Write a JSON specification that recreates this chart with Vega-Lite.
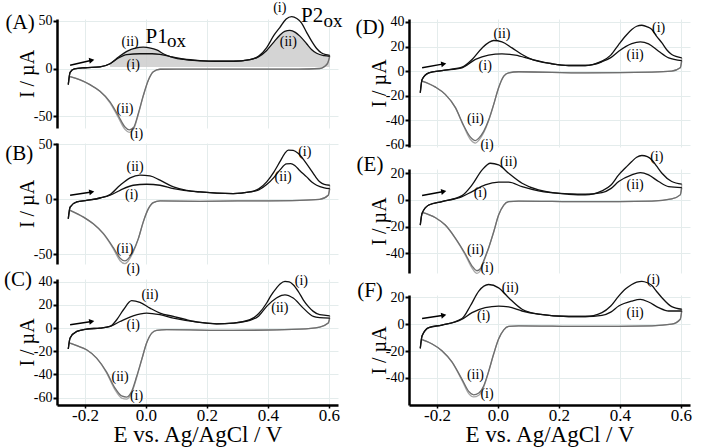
{
"$schema":"https://vega.github.io/schema/vega-lite/v6.json",
"background":"white",
"padding":{"left":3,"top":0,"right":3,"bottom":2},
"config":{"font":"Liberation Serif","view":{"stroke":null},
"axis":{"labelFont":"Liberation Serif","titleFont":"Liberation Serif","labelColor":"#000","titleColor":"#000","domainColor":"#000","tickColor":"#000","gridColor":"#e4ecec","gridWidth":1,"titleFontWeight":"normal"},
"axisY":{"domainWidth":2.5,"tickWidth":2,"tickSize":4,"labelFontSize":14,"labelPadding":1,"titleFontSize":20,"titleX":-24,"titleBaseline":"alphabetic","grid":true}},
"datasets":{
"cv":[
{"p":"A","s":"f1","E":-0.255,"I":-17},{"p":"A","s":"f1","E":-0.249,"I":-4},{"p":"A","s":"f1","E":-0.235,"I":-0.5},{"p":"A","s":"f1","E":-0.2,"I":0.8},{"p":"A","s":"f1","E":-0.151,"I":1.7},{"p":"A","s":"f1","E":-0.118,"I":5},{"p":"A","s":"f1","E":-0.09,"I":11},{"p":"A","s":"f1","E":-0.063,"I":14.5},{"p":"A","s":"f1","E":-0.02,"I":15.5},{"p":"A","s":"f1","E":0.02,"I":15.5},{"p":"A","s":"f1","E":0.046,"I":14.8},{"p":"A","s":"f1","E":0.08,"I":12.5},{"p":"A","s":"f1","E":0.122,"I":10},{"p":"A","s":"f1","E":0.177,"I":8.3},{"p":"A","s":"f1","E":0.232,"I":7.6},{"p":"A","s":"f1","E":0.286,"I":7.6},{"p":"A","s":"f1","E":0.341,"I":9.3},{"p":"A","s":"f1","E":0.37,"I":13},{"p":"A","s":"f1","E":0.396,"I":22},{"p":"A","s":"f1","E":0.42,"I":35},{"p":"A","s":"f1","E":0.439,"I":43},{"p":"A","s":"f1","E":0.46,"I":52},{"p":"A","s":"f1","E":0.478,"I":54.5},{"p":"A","s":"f1","E":0.495,"I":52.5},{"p":"A","s":"f1","E":0.51,"I":48},{"p":"A","s":"f1","E":0.527,"I":38},{"p":"A","s":"f1","E":0.543,"I":29},{"p":"A","s":"f1","E":0.56,"I":21},{"p":"A","s":"f1","E":0.575,"I":16.5},{"p":"A","s":"f1","E":0.59,"I":14.5},{"p":"A","s":"f1","E":0.603,"I":13.8},
{"p":"A","s":"f2","E":-0.255,"I":-17},{"p":"A","s":"f2","E":-0.249,"I":-4},{"p":"A","s":"f2","E":-0.235,"I":-0.5},{"p":"A","s":"f2","E":-0.2,"I":0.8},{"p":"A","s":"f2","E":-0.151,"I":1.7},{"p":"A","s":"f2","E":-0.118,"I":5},{"p":"A","s":"f2","E":-0.09,"I":12},{"p":"A","s":"f2","E":-0.063,"I":18},{"p":"A","s":"f2","E":-0.035,"I":21.5},{"p":"A","s":"f2","E":-0.009,"I":22.4},{"p":"A","s":"f2","E":0.015,"I":21.5},{"p":"A","s":"f2","E":0.035,"I":19.5},{"p":"A","s":"f2","E":0.06,"I":15},{"p":"A","s":"f2","E":0.09,"I":11.5},{"p":"A","s":"f2","E":0.122,"I":9.5},{"p":"A","s":"f2","E":0.177,"I":8.1},{"p":"A","s":"f2","E":0.232,"I":7.6},{"p":"A","s":"f2","E":0.286,"I":7.6},{"p":"A","s":"f2","E":0.341,"I":9.3},{"p":"A","s":"f2","E":0.37,"I":12.5},{"p":"A","s":"f2","E":0.396,"I":19},{"p":"A","s":"f2","E":0.42,"I":28},{"p":"A","s":"f2","E":0.439,"I":35},{"p":"A","s":"f2","E":0.455,"I":39},{"p":"A","s":"f2","E":0.472,"I":40},{"p":"A","s":"f2","E":0.49,"I":38},{"p":"A","s":"f2","E":0.505,"I":34},{"p":"A","s":"f2","E":0.527,"I":26},{"p":"A","s":"f2","E":0.543,"I":20},{"p":"A","s":"f2","E":0.56,"I":16},{"p":"A","s":"f2","E":0.585,"I":13.5},{"p":"A","s":"f2","E":0.603,"I":12.8},
{"p":"A","s":"r1","E":-0.249,"I":-8.6},{"p":"A","s":"r1","E":-0.216,"I":-12},{"p":"A","s":"r1","E":-0.184,"I":-17},{"p":"A","s":"r1","E":-0.151,"I":-24},{"p":"A","s":"r1","E":-0.118,"I":-36},{"p":"A","s":"r1","E":-0.09,"I":-52},{"p":"A","s":"r1","E":-0.069,"I":-64},{"p":"A","s":"r1","E":-0.055,"I":-67},{"p":"A","s":"r1","E":-0.041,"I":-64},{"p":"A","s":"r1","E":-0.025,"I":-48},{"p":"A","s":"r1","E":-0.009,"I":-29},{"p":"A","s":"r1","E":0.008,"I":-12},{"p":"A","s":"r1","E":0.024,"I":-3.4},{"p":"A","s":"r1","E":0.046,"I":-0.8},{"p":"A","s":"r1","E":0.1,"I":-0.7},{"p":"A","s":"r1","E":0.3,"I":-0.7},{"p":"A","s":"r1","E":0.5,"I":-0.7},{"p":"A","s":"r1","E":0.57,"I":0},{"p":"A","s":"r1","E":0.595,"I":5},{"p":"A","s":"r1","E":0.603,"I":13.8},
{"p":"A","s":"r2","E":-0.249,"I":-8.6},{"p":"A","s":"r2","E":-0.216,"I":-12},{"p":"A","s":"r2","E":-0.184,"I":-17},{"p":"A","s":"r2","E":-0.151,"I":-24},{"p":"A","s":"r2","E":-0.118,"I":-35},{"p":"A","s":"r2","E":-0.09,"I":-50},{"p":"A","s":"r2","E":-0.069,"I":-61.5},{"p":"A","s":"r2","E":-0.055,"I":-64.5},{"p":"A","s":"r2","E":-0.041,"I":-62},{"p":"A","s":"r2","E":-0.025,"I":-47},{"p":"A","s":"r2","E":-0.009,"I":-28.5},{"p":"A","s":"r2","E":0.008,"I":-12},{"p":"A","s":"r2","E":0.024,"I":-3.4},{"p":"A","s":"r2","E":0.046,"I":-0.8},{"p":"A","s":"r2","E":0.1,"I":-0.7},{"p":"A","s":"r2","E":0.3,"I":-0.7},{"p":"A","s":"r2","E":0.5,"I":-0.7},{"p":"A","s":"r2","E":0.57,"I":0},{"p":"A","s":"r2","E":0.595,"I":5},{"p":"A","s":"r2","E":0.603,"I":12.8},

{"p":"B","s":"f1","E":-0.255,"I":-17.7},{"p":"B","s":"f1","E":-0.249,"I":-7},{"p":"B","s":"f1","E":-0.227,"I":-2.4},{"p":"B","s":"f1","E":-0.195,"I":-1},{"p":"B","s":"f1","E":-0.151,"I":1.2},{"p":"B","s":"f1","E":-0.118,"I":3.7},{"p":"B","s":"f1","E":-0.085,"I":8.2},{"p":"B","s":"f1","E":-0.042,"I":12.8},{"p":"B","s":"f1","E":0.002,"I":13.7},{"p":"B","s":"f1","E":0.046,"I":12.8},{"p":"B","s":"f1","E":0.09,"I":9.8},{"p":"B","s":"f1","E":0.177,"I":6.7},{"p":"B","s":"f1","E":0.286,"I":5.2},{"p":"B","s":"f1","E":0.341,"I":6.7},{"p":"B","s":"f1","E":0.37,"I":9.5},{"p":"B","s":"f1","E":0.396,"I":15.9},{"p":"B","s":"f1","E":0.42,"I":25},{"p":"B","s":"f1","E":0.439,"I":34},{"p":"B","s":"f1","E":0.455,"I":41.5},{"p":"B","s":"f1","E":0.467,"I":44.8},{"p":"B","s":"f1","E":0.483,"I":44.5},{"p":"B","s":"f1","E":0.499,"I":41.8},{"p":"B","s":"f1","E":0.52,"I":35},{"p":"B","s":"f1","E":0.538,"I":28},{"p":"B","s":"f1","E":0.555,"I":21},{"p":"B","s":"f1","E":0.57,"I":15.9},{"p":"B","s":"f1","E":0.585,"I":13.5},{"p":"B","s":"f1","E":0.603,"I":12.8},
{"p":"B","s":"f2","E":-0.255,"I":-17.7},{"p":"B","s":"f2","E":-0.249,"I":-7},{"p":"B","s":"f2","E":-0.227,"I":-2.4},{"p":"B","s":"f2","E":-0.195,"I":-1},{"p":"B","s":"f2","E":-0.151,"I":1.2},{"p":"B","s":"f2","E":-0.118,"I":4.3},{"p":"B","s":"f2","E":-0.085,"I":12.8},{"p":"B","s":"f2","E":-0.052,"I":19.5},{"p":"B","s":"f2","E":-0.02,"I":22},{"p":"B","s":"f2","E":0.013,"I":21.3},{"p":"B","s":"f2","E":0.046,"I":17.4},{"p":"B","s":"f2","E":0.09,"I":11.3},{"p":"B","s":"f2","E":0.133,"I":8.2},{"p":"B","s":"f2","E":0.177,"I":6.7},{"p":"B","s":"f2","E":0.286,"I":5.2},{"p":"B","s":"f2","E":0.341,"I":6.7},{"p":"B","s":"f2","E":0.37,"I":8.5},{"p":"B","s":"f2","E":0.396,"I":13.4},{"p":"B","s":"f2","E":0.42,"I":20},{"p":"B","s":"f2","E":0.439,"I":26.5},{"p":"B","s":"f2","E":0.461,"I":32.3},{"p":"B","s":"f2","E":0.475,"I":32.5},{"p":"B","s":"f2","E":0.489,"I":30.5},{"p":"B","s":"f2","E":0.505,"I":26},{"p":"B","s":"f2","E":0.527,"I":20.4},{"p":"B","s":"f2","E":0.545,"I":15.5},{"p":"B","s":"f2","E":0.56,"I":12.8},{"p":"B","s":"f2","E":0.585,"I":10.5},{"p":"B","s":"f2","E":0.603,"I":9.8},
{"p":"B","s":"r1","E":-0.249,"I":-10},{"p":"B","s":"r1","E":-0.205,"I":-16.2},{"p":"B","s":"r1","E":-0.173,"I":-22.3},{"p":"B","s":"r1","E":-0.14,"I":-31.4},{"p":"B","s":"r1","E":-0.107,"I":-45},{"p":"B","s":"r1","E":-0.085,"I":-55.8},{"p":"B","s":"r1","E":-0.069,"I":-58.5},{"p":"B","s":"r1","E":-0.058,"I":-56},{"p":"B","s":"r1","E":-0.042,"I":-48},{"p":"B","s":"r1","E":-0.025,"I":-36},{"p":"B","s":"r1","E":-0.009,"I":-20.7},{"p":"B","s":"r1","E":0.008,"I":-8.5},{"p":"B","s":"r1","E":0.024,"I":-3},{"p":"B","s":"r1","E":0.046,"I":-1.5},{"p":"B","s":"r1","E":0.177,"I":-1.8},{"p":"B","s":"r1","E":0.3,"I":-1.5},{"p":"B","s":"r1","E":0.505,"I":-0.9},{"p":"B","s":"r1","E":0.57,"I":0},{"p":"B","s":"r1","E":0.598,"I":3.7},{"p":"B","s":"r1","E":0.603,"I":12.8},
{"p":"B","s":"r2","E":-0.249,"I":-10},{"p":"B","s":"r2","E":-0.205,"I":-16.2},{"p":"B","s":"r2","E":-0.173,"I":-22.3},{"p":"B","s":"r2","E":-0.14,"I":-31},{"p":"B","s":"r2","E":-0.107,"I":-44},{"p":"B","s":"r2","E":-0.085,"I":-53.5},{"p":"B","s":"r2","E":-0.069,"I":-56},{"p":"B","s":"r2","E":-0.058,"I":-54},{"p":"B","s":"r2","E":-0.042,"I":-47},{"p":"B","s":"r2","E":-0.025,"I":-35.5},{"p":"B","s":"r2","E":-0.009,"I":-20.5},{"p":"B","s":"r2","E":0.008,"I":-8.5},{"p":"B","s":"r2","E":0.024,"I":-3},{"p":"B","s":"r2","E":0.046,"I":-1.5},{"p":"B","s":"r2","E":0.177,"I":-1.8},{"p":"B","s":"r2","E":0.3,"I":-1.5},{"p":"B","s":"r2","E":0.505,"I":-0.9},{"p":"B","s":"r2","E":0.57,"I":0},{"p":"B","s":"r2","E":0.598,"I":3.7},{"p":"B","s":"r2","E":0.603,"I":9.8},

{"p":"C","s":"f1","E":-0.255,"I":-18},{"p":"C","s":"f1","E":-0.249,"I":-8.6},{"p":"C","s":"f1","E":-0.227,"I":-2.9},{"p":"C","s":"f1","E":-0.195,"I":-0.9},{"p":"C","s":"f1","E":-0.151,"I":0},{"p":"C","s":"f1","E":-0.118,"I":1.4},{"p":"C","s":"f1","E":-0.085,"I":5.7},{"p":"C","s":"f1","E":-0.042,"I":10.6},{"p":"C","s":"f1","E":0.002,"I":12.9},{"p":"C","s":"f1","E":0.046,"I":11.5},{"p":"C","s":"f1","E":0.09,"I":8.6},{"p":"C","s":"f1","E":0.177,"I":4.9},{"p":"C","s":"f1","E":0.232,"I":3.7},{"p":"C","s":"f1","E":0.286,"I":4.3},{"p":"C","s":"f1","E":0.341,"I":7.2},{"p":"C","s":"f1","E":0.37,"I":12.5},{"p":"C","s":"f1","E":0.396,"I":21.6},{"p":"C","s":"f1","E":0.41,"I":28},{"p":"C","s":"f1","E":0.428,"I":34.5},{"p":"C","s":"f1","E":0.44,"I":38},{"p":"C","s":"f1","E":0.456,"I":40.2},{"p":"C","s":"f1","E":0.47,"I":39.8},{"p":"C","s":"f1","E":0.483,"I":37.4},{"p":"C","s":"f1","E":0.5,"I":31.5},{"p":"C","s":"f1","E":0.516,"I":24.4},{"p":"C","s":"f1","E":0.533,"I":18.5},{"p":"C","s":"f1","E":0.549,"I":14.4},{"p":"C","s":"f1","E":0.57,"I":11.5},{"p":"C","s":"f1","E":0.603,"I":10.6},
{"p":"C","s":"f2","E":-0.255,"I":-18},{"p":"C","s":"f2","E":-0.249,"I":-8.6},{"p":"C","s":"f2","E":-0.227,"I":-2.9},{"p":"C","s":"f2","E":-0.195,"I":-0.9},{"p":"C","s":"f2","E":-0.151,"I":0},{"p":"C","s":"f2","E":-0.118,"I":1.4},{"p":"C","s":"f2","E":-0.096,"I":7.2},{"p":"C","s":"f2","E":-0.074,"I":15.8},{"p":"C","s":"f2","E":-0.047,"I":23.6},{"p":"C","s":"f2","E":-0.02,"I":22.1},{"p":"C","s":"f2","E":0.013,"I":17.2},{"p":"C","s":"f2","E":0.046,"I":12.9},{"p":"C","s":"f2","E":0.09,"I":10},{"p":"C","s":"f2","E":0.133,"I":7.2},{"p":"C","s":"f2","E":0.177,"I":4.9},{"p":"C","s":"f2","E":0.232,"I":3.7},{"p":"C","s":"f2","E":0.286,"I":4.3},{"p":"C","s":"f2","E":0.341,"I":6.6},{"p":"C","s":"f2","E":0.37,"I":10.5},{"p":"C","s":"f2","E":0.396,"I":18.7},{"p":"C","s":"f2","E":0.428,"I":25.9},{"p":"C","s":"f2","E":0.445,"I":28.2},{"p":"C","s":"f2","E":0.456,"I":28.7},{"p":"C","s":"f2","E":0.483,"I":25.9},{"p":"C","s":"f2","E":0.516,"I":17.2},{"p":"C","s":"f2","E":0.549,"I":10},{"p":"C","s":"f2","E":0.57,"I":9},{"p":"C","s":"f2","E":0.603,"I":8.6},
{"p":"C","s":"r1","E":-0.249,"I":-12.9},{"p":"C","s":"r1","E":-0.227,"I":-15.2},{"p":"C","s":"r1","E":-0.195,"I":-18.7},{"p":"C","s":"r1","E":-0.162,"I":-25.9},{"p":"C","s":"r1","E":-0.129,"I":-38.8},{"p":"C","s":"r1","E":-0.102,"I":-53},{"p":"C","s":"r1","E":-0.08,"I":-60.3},{"p":"C","s":"r1","E":-0.063,"I":-61.2},{"p":"C","s":"r1","E":-0.047,"I":-56},{"p":"C","s":"r1","E":-0.031,"I":-43},{"p":"C","s":"r1","E":-0.014,"I":-27.3},{"p":"C","s":"r1","E":0.002,"I":-12.9},{"p":"C","s":"r1","E":0.019,"I":-4.3},{"p":"C","s":"r1","E":0.035,"I":-2},{"p":"C","s":"r1","E":0.068,"I":-1.4},{"p":"C","s":"r1","E":0.286,"I":-2},{"p":"C","s":"r1","E":0.505,"I":-0.9},{"p":"C","s":"r1","E":0.57,"I":0.9},{"p":"C","s":"r1","E":0.598,"I":4.3},{"p":"C","s":"r1","E":0.603,"I":10.6},
{"p":"C","s":"r2","E":-0.249,"I":-12.9},{"p":"C","s":"r2","E":-0.227,"I":-15.2},{"p":"C","s":"r2","E":-0.195,"I":-18.7},{"p":"C","s":"r2","E":-0.162,"I":-25.9},{"p":"C","s":"r2","E":-0.129,"I":-38},{"p":"C","s":"r2","E":-0.102,"I":-51.5},{"p":"C","s":"r2","E":-0.08,"I":-58.5},{"p":"C","s":"r2","E":-0.063,"I":-59.5},{"p":"C","s":"r2","E":-0.047,"I":-54.5},{"p":"C","s":"r2","E":-0.031,"I":-42},{"p":"C","s":"r2","E":-0.014,"I":-27},{"p":"C","s":"r2","E":0.002,"I":-12.9},{"p":"C","s":"r2","E":0.019,"I":-4.3},{"p":"C","s":"r2","E":0.035,"I":-2},{"p":"C","s":"r2","E":0.068,"I":-1.4},{"p":"C","s":"r2","E":0.286,"I":-2},{"p":"C","s":"r2","E":0.505,"I":-0.9},{"p":"C","s":"r2","E":0.57,"I":0.9},{"p":"C","s":"r2","E":0.598,"I":4.3},{"p":"C","s":"r2","E":0.603,"I":8.6},

{"p":"D","s":"f1","E":-0.255,"I":-17.6},{"p":"D","s":"f1","E":-0.249,"I":-6.8},{"p":"D","s":"f1","E":-0.227,"I":-1.4},{"p":"D","s":"f1","E":-0.184,"I":0.5},{"p":"D","s":"f1","E":-0.118,"I":2.7},{"p":"D","s":"f1","E":-0.074,"I":9.5},{"p":"D","s":"f1","E":-0.031,"I":13},{"p":"D","s":"f1","E":0.013,"I":14},{"p":"D","s":"f1","E":0.057,"I":13},{"p":"D","s":"f1","E":0.111,"I":9.5},{"p":"D","s":"f1","E":0.177,"I":6},{"p":"D","s":"f1","E":0.232,"I":4.6},{"p":"D","s":"f1","E":0.286,"I":4.6},{"p":"D","s":"f1","E":0.341,"I":8.1},{"p":"D","s":"f1","E":0.37,"I":13},{"p":"D","s":"f1","E":0.396,"I":21.6},{"p":"D","s":"f1","E":0.42,"I":29},{"p":"D","s":"f1","E":0.439,"I":33.8},{"p":"D","s":"f1","E":0.455,"I":36.5},{"p":"D","s":"f1","E":0.472,"I":37.3},{"p":"D","s":"f1","E":0.49,"I":36},{"p":"D","s":"f1","E":0.505,"I":33.8},{"p":"D","s":"f1","E":0.52,"I":28.5},{"p":"D","s":"f1","E":0.538,"I":23},{"p":"D","s":"f1","E":0.555,"I":17},{"p":"D","s":"f1","E":0.57,"I":13.5},{"p":"D","s":"f1","E":0.603,"I":10.8},
{"p":"D","s":"f2","E":-0.255,"I":-17.6},{"p":"D","s":"f2","E":-0.249,"I":-6.8},{"p":"D","s":"f2","E":-0.227,"I":-1.4},{"p":"D","s":"f2","E":-0.184,"I":0.5},{"p":"D","s":"f2","E":-0.118,"I":3.2},{"p":"D","s":"f2","E":-0.085,"I":9.5},{"p":"D","s":"f2","E":-0.052,"I":18.9},{"p":"D","s":"f2","E":-0.014,"I":24.9},{"p":"D","s":"f2","E":0.013,"I":23.8},{"p":"D","s":"f2","E":0.046,"I":18.9},{"p":"D","s":"f2","E":0.079,"I":13.5},{"p":"D","s":"f2","E":0.111,"I":9.5},{"p":"D","s":"f2","E":0.177,"I":6},{"p":"D","s":"f2","E":0.232,"I":4.6},{"p":"D","s":"f2","E":0.286,"I":4.6},{"p":"D","s":"f2","E":0.341,"I":7.6},{"p":"D","s":"f2","E":0.37,"I":11},{"p":"D","s":"f2","E":0.396,"I":16.2},{"p":"D","s":"f2","E":0.439,"I":22.4},{"p":"D","s":"f2","E":0.467,"I":23.8},{"p":"D","s":"f2","E":0.494,"I":22.2},{"p":"D","s":"f2","E":0.527,"I":16.2},{"p":"D","s":"f2","E":0.56,"I":10.8},{"p":"D","s":"f2","E":0.603,"I":8.6},
{"p":"D","s":"r1","E":-0.249,"I":-8.1},{"p":"D","s":"r1","E":-0.205,"I":-13},{"p":"D","s":"r1","E":-0.173,"I":-18.9},{"p":"D","s":"r1","E":-0.14,"I":-29.7},{"p":"D","s":"r1","E":-0.113,"I":-44.6},{"p":"D","s":"r1","E":-0.091,"I":-55.4},{"p":"D","s":"r1","E":-0.074,"I":-58.5},{"p":"D","s":"r1","E":-0.063,"I":-56.2},{"p":"D","s":"r1","E":-0.047,"I":-50},{"p":"D","s":"r1","E":-0.031,"I":-40.5},{"p":"D","s":"r1","E":-0.014,"I":-27},{"p":"D","s":"r1","E":0.002,"I":-13.5},{"p":"D","s":"r1","E":0.019,"I":-4},{"p":"D","s":"r1","E":0.035,"I":-1.4},{"p":"D","s":"r1","E":0.068,"I":-0.5},{"p":"D","s":"r1","E":0.286,"I":-1.4},{"p":"D","s":"r1","E":0.505,"I":-0.8},{"p":"D","s":"r1","E":0.57,"I":0},{"p":"D","s":"r1","E":0.598,"I":2.7},{"p":"D","s":"r1","E":0.603,"I":10.8},
{"p":"D","s":"r2","E":-0.249,"I":-8.1},{"p":"D","s":"r2","E":-0.205,"I":-13},{"p":"D","s":"r2","E":-0.173,"I":-18.9},{"p":"D","s":"r2","E":-0.14,"I":-29.5},{"p":"D","s":"r2","E":-0.113,"I":-44},{"p":"D","s":"r2","E":-0.091,"I":-53.5},{"p":"D","s":"r2","E":-0.074,"I":-56.5},{"p":"D","s":"r2","E":-0.063,"I":-54.5},{"p":"D","s":"r2","E":-0.047,"I":-49},{"p":"D","s":"r2","E":-0.031,"I":-40},{"p":"D","s":"r2","E":-0.014,"I":-27},{"p":"D","s":"r2","E":0.002,"I":-13.5},{"p":"D","s":"r2","E":0.019,"I":-4},{"p":"D","s":"r2","E":0.035,"I":-1.4},{"p":"D","s":"r2","E":0.068,"I":-0.5},{"p":"D","s":"r2","E":0.286,"I":-1.4},{"p":"D","s":"r2","E":0.505,"I":-0.8},{"p":"D","s":"r2","E":0.57,"I":0},{"p":"D","s":"r2","E":0.598,"I":2.7},{"p":"D","s":"r2","E":0.603,"I":8.6},

{"p":"E","s":"f1","E":-0.255,"I":-18.8},{"p":"E","s":"f1","E":-0.249,"I":-10},{"p":"E","s":"f1","E":-0.227,"I":-3.8},{"p":"E","s":"f1","E":-0.184,"I":-1.2},{"p":"E","s":"f1","E":-0.118,"I":2.5},{"p":"E","s":"f1","E":-0.085,"I":6.3},{"p":"E","s":"f1","E":-0.042,"I":11.3},{"p":"E","s":"f1","E":0.002,"I":13.3},{"p":"E","s":"f1","E":0.035,"I":13.3},{"p":"E","s":"f1","E":0.079,"I":10},{"p":"E","s":"f1","E":0.133,"I":6.8},{"p":"E","s":"f1","E":0.232,"I":4.3},{"p":"E","s":"f1","E":0.286,"I":3.8},{"p":"E","s":"f1","E":0.341,"I":6.8},{"p":"E","s":"f1","E":0.37,"I":11},{"p":"E","s":"f1","E":0.396,"I":18.8},{"p":"E","s":"f1","E":0.42,"I":24.5},{"p":"E","s":"f1","E":0.439,"I":28.8},{"p":"E","s":"f1","E":0.455,"I":32},{"p":"E","s":"f1","E":0.472,"I":33.3},{"p":"E","s":"f1","E":0.49,"I":32.5},{"p":"E","s":"f1","E":0.505,"I":30},{"p":"E","s":"f1","E":0.52,"I":25.5},{"p":"E","s":"f1","E":0.538,"I":20},{"p":"E","s":"f1","E":0.57,"I":13.8},{"p":"E","s":"f1","E":0.603,"I":11.8},
{"p":"E","s":"f2","E":-0.255,"I":-18.8},{"p":"E","s":"f2","E":-0.249,"I":-10},{"p":"E","s":"f2","E":-0.227,"I":-3.8},{"p":"E","s":"f2","E":-0.184,"I":-1.2},{"p":"E","s":"f2","E":-0.118,"I":3.3},{"p":"E","s":"f2","E":-0.085,"I":11.3},{"p":"E","s":"f2","E":-0.052,"I":22.5},{"p":"E","s":"f2","E":-0.025,"I":27.5},{"p":"E","s":"f2","E":0.002,"I":26.3},{"p":"E","s":"f2","E":0.035,"I":20},{"p":"E","s":"f2","E":0.079,"I":12.5},{"p":"E","s":"f2","E":0.133,"I":7.5},{"p":"E","s":"f2","E":0.232,"I":4.5},{"p":"E","s":"f2","E":0.286,"I":4.3},{"p":"E","s":"f2","E":0.341,"I":5.5},{"p":"E","s":"f2","E":0.37,"I":8.5},{"p":"E","s":"f2","E":0.396,"I":13.8},{"p":"E","s":"f2","E":0.439,"I":18.8},{"p":"E","s":"f2","E":0.467,"I":20.5},{"p":"E","s":"f2","E":0.494,"I":18.8},{"p":"E","s":"f2","E":0.527,"I":13.8},{"p":"E","s":"f2","E":0.56,"I":10},{"p":"E","s":"f2","E":0.603,"I":9.3},
{"p":"E","s":"r1","E":-0.249,"I":-9.3},{"p":"E","s":"r1","E":-0.205,"I":-13.3},{"p":"E","s":"r1","E":-0.173,"I":-18.8},{"p":"E","s":"r1","E":-0.14,"I":-28.8},{"p":"E","s":"r1","E":-0.107,"I":-41.3},{"p":"E","s":"r1","E":-0.085,"I":-51},{"p":"E","s":"r1","E":-0.069,"I":-55},{"p":"E","s":"r1","E":-0.058,"I":-53},{"p":"E","s":"r1","E":-0.047,"I":-46.3},{"p":"E","s":"r1","E":-0.031,"I":-36.3},{"p":"E","s":"r1","E":-0.014,"I":-23.8},{"p":"E","s":"r1","E":0.002,"I":-11.3},{"p":"E","s":"r1","E":0.019,"I":-3.8},{"p":"E","s":"r1","E":0.035,"I":-1.3},{"p":"E","s":"r1","E":0.068,"I":-0.8},{"p":"E","s":"r1","E":0.286,"I":-1.3},{"p":"E","s":"r1","E":0.505,"I":-0.8},{"p":"E","s":"r1","E":0.57,"I":0.8},{"p":"E","s":"r1","E":0.598,"I":3.8},{"p":"E","s":"r1","E":0.603,"I":11.8},
{"p":"E","s":"r2","E":-0.249,"I":-9.3},{"p":"E","s":"r2","E":-0.205,"I":-13.3},{"p":"E","s":"r2","E":-0.173,"I":-18.8},{"p":"E","s":"r2","E":-0.14,"I":-28.5},{"p":"E","s":"r2","E":-0.107,"I":-40.5},{"p":"E","s":"r2","E":-0.085,"I":-49.5},{"p":"E","s":"r2","E":-0.069,"I":-53},{"p":"E","s":"r2","E":-0.058,"I":-51.5},{"p":"E","s":"r2","E":-0.047,"I":-45.5},{"p":"E","s":"r2","E":-0.031,"I":-36},{"p":"E","s":"r2","E":-0.014,"I":-23.8},{"p":"E","s":"r2","E":0.002,"I":-11.3},{"p":"E","s":"r2","E":0.019,"I":-3.8},{"p":"E","s":"r2","E":0.035,"I":-1.3},{"p":"E","s":"r2","E":0.068,"I":-0.8},{"p":"E","s":"r2","E":0.286,"I":-1.3},{"p":"E","s":"r2","E":0.505,"I":-0.8},{"p":"E","s":"r2","E":0.57,"I":0.8},{"p":"E","s":"r2","E":0.598,"I":3.8},{"p":"E","s":"r2","E":0.603,"I":9.3},

{"p":"F","s":"f1","E":-0.255,"I":-18},{"p":"F","s":"f1","E":-0.249,"I":-8.6},{"p":"F","s":"f1","E":-0.227,"I":-2.5},{"p":"F","s":"f1","E":-0.184,"I":-0.7},{"p":"F","s":"f1","E":-0.118,"I":3.7},{"p":"F","s":"f1","E":-0.085,"I":8.6},{"p":"F","s":"f1","E":-0.042,"I":12.3},{"p":"F","s":"f1","E":0.002,"I":13.5},{"p":"F","s":"f1","E":0.035,"I":12.8},{"p":"F","s":"f1","E":0.079,"I":9.8},{"p":"F","s":"f1","E":0.133,"I":7.4},{"p":"F","s":"f1","E":0.232,"I":5.7},{"p":"F","s":"f1","E":0.286,"I":5.7},{"p":"F","s":"f1","E":0.341,"I":8.6},{"p":"F","s":"f1","E":0.37,"I":13.5},{"p":"F","s":"f1","E":0.396,"I":20.9},{"p":"F","s":"f1","E":0.42,"I":26.5},{"p":"F","s":"f1","E":0.439,"I":29.5},{"p":"F","s":"f1","E":0.455,"I":31.2},{"p":"F","s":"f1","E":0.472,"I":31.9},{"p":"F","s":"f1","E":0.49,"I":30.8},{"p":"F","s":"f1","E":0.505,"I":28.7},{"p":"F","s":"f1","E":0.52,"I":24.5},{"p":"F","s":"f1","E":0.538,"I":19.7},{"p":"F","s":"f1","E":0.57,"I":13},{"p":"F","s":"f1","E":0.603,"I":11.1},
{"p":"F","s":"f2","E":-0.255,"I":-18},{"p":"F","s":"f2","E":-0.249,"I":-8.6},{"p":"F","s":"f2","E":-0.227,"I":-2.5},{"p":"F","s":"f2","E":-0.184,"I":-0.7},{"p":"F","s":"f2","E":-0.118,"I":4.2},{"p":"F","s":"f2","E":-0.091,"I":13.5},{"p":"F","s":"f2","E":-0.063,"I":24.6},{"p":"F","s":"f2","E":-0.031,"I":29.5},{"p":"F","s":"f2","E":0.002,"I":27},{"p":"F","s":"f2","E":0.035,"I":19.7},{"p":"F","s":"f2","E":0.079,"I":11.1},{"p":"F","s":"f2","E":0.133,"I":7.4},{"p":"F","s":"f2","E":0.232,"I":5.7},{"p":"F","s":"f2","E":0.286,"I":5.7},{"p":"F","s":"f2","E":0.341,"I":6.6},{"p":"F","s":"f2","E":0.37,"I":9},{"p":"F","s":"f2","E":0.396,"I":13.5},{"p":"F","s":"f2","E":0.439,"I":17.2},{"p":"F","s":"f2","E":0.467,"I":18.4},{"p":"F","s":"f2","E":0.494,"I":16.5},{"p":"F","s":"f2","E":0.527,"I":12.3},{"p":"F","s":"f2","E":0.56,"I":9.8},{"p":"F","s":"f2","E":0.603,"I":9.8},
{"p":"F","s":"r1","E":-0.249,"I":-11.5},{"p":"F","s":"r1","E":-0.216,"I":-14.7},{"p":"F","s":"r1","E":-0.184,"I":-19.7},{"p":"F","s":"r1","E":-0.151,"I":-28.3},{"p":"F","s":"r1","E":-0.118,"I":-41.8},{"p":"F","s":"r1","E":-0.096,"I":-51.6},{"p":"F","s":"r1","E":-0.08,"I":-54.1},{"p":"F","s":"r1","E":-0.063,"I":-52.8},{"p":"F","s":"r1","E":-0.047,"I":-46.7},{"p":"F","s":"r1","E":-0.031,"I":-35.6},{"p":"F","s":"r1","E":-0.014,"I":-22.1},{"p":"F","s":"r1","E":0.002,"I":-11.1},{"p":"F","s":"r1","E":0.019,"I":-4.2},{"p":"F","s":"r1","E":0.035,"I":-1.7},{"p":"F","s":"r1","E":0.068,"I":-1.2},{"p":"F","s":"r1","E":0.286,"I":-1.7},{"p":"F","s":"r1","E":0.505,"I":-1.2},{"p":"F","s":"r1","E":0.57,"I":0},{"p":"F","s":"r1","E":0.598,"I":3.7},{"p":"F","s":"r1","E":0.603,"I":11.1},
{"p":"F","s":"r2","E":-0.249,"I":-11.5},{"p":"F","s":"r2","E":-0.216,"I":-14.7},{"p":"F","s":"r2","E":-0.184,"I":-19.7},{"p":"F","s":"r2","E":-0.151,"I":-28},{"p":"F","s":"r2","E":-0.118,"I":-41},{"p":"F","s":"r2","E":-0.096,"I":-50},{"p":"F","s":"r2","E":-0.08,"I":-52.5},{"p":"F","s":"r2","E":-0.063,"I":-51.2},{"p":"F","s":"r2","E":-0.047,"I":-46},{"p":"F","s":"r2","E":-0.031,"I":-35.3},{"p":"F","s":"r2","E":-0.014,"I":-22},{"p":"F","s":"r2","E":0.002,"I":-11.1},{"p":"F","s":"r2","E":0.019,"I":-4.2},{"p":"F","s":"r2","E":0.035,"I":-1.7},{"p":"F","s":"r2","E":0.068,"I":-1.2},{"p":"F","s":"r2","E":0.286,"I":-1.7},{"p":"F","s":"r2","E":0.505,"I":-1.2},{"p":"F","s":"r2","E":0.57,"I":0},{"p":"F","s":"r2","E":0.598,"I":3.7},{"p":"F","s":"r2","E":0.603,"I":9.8}
],
"arrows":[
{"p":"A","k":"tail","E":-0.249,"I":3.4},{"p":"A","k":"tip","E":-0.178,"I":8.6},
{"p":"B","k":"tail","E":-0.249,"I":3.7},{"p":"B","k":"tip","E":-0.178,"I":6.7},
{"p":"C","k":"tail","E":-0.249,"I":2.9},{"p":"C","k":"tip","E":-0.178,"I":5.7},
{"p":"D","k":"tail","E":-0.249,"I":2.7},{"p":"D","k":"tip","E":-0.178,"I":5.9},
{"p":"E","k":"tail","E":-0.249,"I":3.3},{"p":"E","k":"tip","E":-0.178,"I":6.3},
{"p":"F","k":"tail","E":-0.249,"I":4.2},{"p":"F","k":"tip","E":-0.178,"I":6.6}
],
"labels":[
{"p":"A","E":-0.052,"I":27.6,"t":"(ii)"},{"p":"A","E":-0.042,"I":3.4,"t":"(i)"},{"p":"A","E":0.439,"I":63.8,"t":"(i)"},{"p":"A","E":0.467,"I":27.6,"t":"(ii)"},{"p":"A","E":-0.069,"I":-43,"t":"(ii)"},{"p":"A","E":-0.031,"I":-69,"t":"(i)"},
{"p":"B","E":-0.036,"I":29.6,"t":"(ii)"},{"p":"B","E":-0.047,"I":3.7,"t":"(i)"},{"p":"B","E":0.521,"I":43.3,"t":"(i)"},{"p":"B","E":0.45,"I":20.4,"t":"(ii)"},{"p":"B","E":-0.069,"I":-45,"t":"(ii)"},{"p":"B","E":-0.042,"I":-63.4,"t":"(i)"},
{"p":"C","E":0.013,"I":28.7,"t":"(ii)"},{"p":"C","E":-0.042,"I":2.9,"t":"(i)"},{"p":"C","E":0.51,"I":40.2,"t":"(i)"},{"p":"C","E":0.439,"I":17.2,"t":"(ii)"},{"p":"C","E":-0.085,"I":-42.5,"t":"(ii)"},{"p":"C","E":-0.031,"I":-58.9,"t":"(i)"},
{"p":"D","E":0.013,"I":30.5,"t":"(ii)"},{"p":"D","E":-0.042,"I":4.1,"t":"(i)"},{"p":"D","E":0.527,"I":35.1,"t":"(i)"},{"p":"D","E":0.45,"I":13.5,"t":"(ii)"},{"p":"D","E":-0.074,"I":-39.2,"t":"(ii)"},{"p":"D","E":-0.036,"I":-60,"t":"(i)"},
{"p":"E","E":0.035,"I":28.8,"t":"(ii)"},{"p":"E","E":-0.058,"I":5,"t":"(i)"},{"p":"E","E":0.521,"I":32.5,"t":"(i)"},{"p":"E","E":0.45,"I":11.3,"t":"(ii)"},{"p":"E","E":-0.074,"I":-37.5,"t":"(ii)"},{"p":"E","E":-0.036,"I":-50.8,"t":"(i)"},
{"p":"F","E":0.04,"I":27,"t":"(ii)"},{"p":"F","E":-0.047,"I":6.1,"t":"(i)"},{"p":"F","E":0.51,"I":33.2,"t":"(i)"},{"p":"F","E":0.45,"I":8.6,"t":"(ii)"},{"p":"F","E":-0.074,"I":-38,"t":"(ii)"},{"p":"F","E":-0.036,"I":-51.6,"t":"(i)"}
],
"letters":[
{"p":"A","E":-0.413,"I":47.5,"t":"(A)"},{"p":"B","E":-0.416,"I":41.5,"t":"(B)"},{"p":"C","E":-0.42,"I":41.7,"t":"(C)"},
{"p":"D","E":-0.42,"I":35.2,"t":"(D)"},{"p":"E","E":-0.42,"I":26.2,"t":"(E)"},{"p":"F","E":-0.42,"I":24.8,"t":"(F)"}
],
"plab":[{"p":"A","E":0.035,"I":33.4,"t":"P1"},{"p":"A","E":0.545,"I":55.2,"t":"P2"}],
"psub":[{"p":"A","E":0.1,"I":29.3,"t":"ox"},{"p":"A","E":0.614,"I":50,"t":"ox"}]
},
"spacing":12,
"bounds":"full",
"hconcat":[
{"vconcat":[
{"width":281,"height":109,
"encoding":{"x":{"field":"E","type":"quantitative","scale":{"domain":[-0.292,0.63],"nice":false,"zero":false},"axis":{"values":[-0.2,0,0.2,0.4,0.6],"labels":false,"ticks":false,"domain":false,"title":null,"grid":true}},
"y":{"field":"I","type":"quantitative","scale":{"domain":[-62.5,52],"nice":false,"zero":false},"axis":{"values":[-50,0,50],"title":"I / µA","labelExpr":"datum.value < 0 ? '-' + (-datum.value) : '' + datum.value"}}},
"layer":[
{"data":{"name":"cv"},"transform":[{"filter":"datum.p=='A' && datum.s=='f2' && datum.E>=-0.12"}],"mark":{"type":"area","interpolate":"monotone","color":"#cccccc","opacity":0.85},"encoding":{"y2":{"datum":1.5}}},
{"data":{"name":"cv"},"transform":[{"filter":"datum.p=='A' && (datum.s=='r1' || datum.s=='r2')"}],"mark":{"type":"line","interpolate":"monotone","strokeWidth":1.3},"encoding":{"color":{"field":"s","type":"nominal","scale":{"domain":["f1","f2","r1","r2"],"range":["#111111","#111111","#a6a6a6","#6e6e6e"]},"legend":null}}},
{"data":{"name":"cv"},"transform":[{"filter":"datum.p=='A' && (datum.s=='f1' || datum.s=='f2')"}],"mark":{"type":"line","interpolate":"monotone","strokeWidth":1.3},"encoding":{"color":{"field":"s","type":"nominal","scale":{"domain":["f1","f2","r1","r2"],"range":["#111111","#111111","#a6a6a6","#6e6e6e"]},"legend":null}}},
{"data":{"name":"arrows"},"transform":[{"filter":"datum.p=='A'"}],"mark":{"type":"line","strokeWidth":1.5,"color":"#000"},"encoding":{}},
{"data":{"name":"arrows"},"transform":[{"filter":"datum.p=='A' && datum.k=='tip'"}],"mark":{"type":"point","shape":"triangle-right","filled":true,"size":35,"angle":350,"color":"#000","opacity":1},"encoding":{}},
{"data":{"name":"labels"},"transform":[{"filter":"datum.p=='A'"}],"mark":{"type":"text","fontSize":14,"color":"#000"},"encoding":{"text":{"field":"t"}}},
{"data":{"name":"letters"},"transform":[{"filter":"datum.p=='A'"}],"mark":{"type":"text","fontSize":21,"color":"#000"},"encoding":{"text":{"field":"t"}}},
{"data":{"name":"plab"},"mark":{"type":"text","fontSize":21,"color":"#000"},"encoding":{"text":{"field":"t"}}},
{"data":{"name":"psub"},"mark":{"type":"text","fontSize":19,"color":"#000"},"encoding":{"text":{"field":"t"}}}
]},
{"width":281,"height":121,
"encoding":{"x":{"field":"E","type":"quantitative","scale":{"domain":[-0.292,0.63],"nice":false,"zero":false},"axis":{"values":[-0.2,0,0.2,0.4,0.6],"labels":false,"ticks":false,"domain":false,"title":null,"grid":true}},
"y":{"field":"I","type":"quantitative","scale":{"domain":[-58.8,51.2],"nice":false,"zero":false},"axis":{"values":[-50,0,50],"title":"I / µA","labelExpr":"datum.value < 0 ? '-' + (-datum.value) : '' + datum.value"}}},
"layer":[
{"data":{"name":"cv"},"transform":[{"filter":"datum.p=='B' && (datum.s=='r1' || datum.s=='r2')"}],"mark":{"type":"line","interpolate":"monotone","strokeWidth":1.3},"encoding":{"color":{"field":"s","type":"nominal","scale":{"domain":["f1","f2","r1","r2"],"range":["#111111","#111111","#a6a6a6","#6e6e6e"]},"legend":null}}},
{"data":{"name":"cv"},"transform":[{"filter":"datum.p=='B' && (datum.s=='f1' || datum.s=='f2')"}],"mark":{"type":"line","interpolate":"monotone","strokeWidth":1.3},"encoding":{"color":{"field":"s","type":"nominal","scale":{"domain":["f1","f2","r1","r2"],"range":["#111111","#111111","#a6a6a6","#6e6e6e"]},"legend":null}}},
{"data":{"name":"arrows"},"transform":[{"filter":"datum.p=='B'"}],"mark":{"type":"line","strokeWidth":1.5,"color":"#000"},"encoding":{}},
{"data":{"name":"arrows"},"transform":[{"filter":"datum.p=='B' && datum.k=='tip'"}],"mark":{"type":"point","shape":"triangle-right","filled":true,"size":35,"angle":350,"color":"#000","opacity":1},"encoding":{}},
{"data":{"name":"labels"},"transform":[{"filter":"datum.p=='B'"}],"mark":{"type":"text","fontSize":14,"color":"#000"},"encoding":{"text":{"field":"t"}}},
{"data":{"name":"letters"},"transform":[{"filter":"datum.p=='B'"}],"mark":{"type":"text","fontSize":21,"color":"#000"},"encoding":{"text":{"field":"t"}}}
]},
{"width":281,"height":126,
"encoding":{"x":{"field":"E","type":"quantitative","scale":{"domain":[-0.292,0.63],"nice":false,"zero":false},"axis":{"values":[-0.2,0,0.2,0.4,0.6],"title":"E vs. Ag/AgCl / V","labelExpr":"datum.value < 0 ? '-' + format(-datum.value, '.1f') : format(datum.value, '.1f')","labelFontSize":17,"titleFontSize":23,"tickSize":3,"tickWidth":1.5,"domainWidth":2.5,"labelPadding":-1,"titleY":36,"titleBaseline":"alphabetic","labelFlush":false,"grid":true}},
"y":{"field":"I","type":"quantitative","scale":{"domain":[-66.3,42.3],"nice":false,"zero":false},"axis":{"values":[-60,-40,-20,0,20,40],"title":"I / µA","labelExpr":"datum.value < 0 ? '-' + (-datum.value) : '' + datum.value"}}},
"layer":[
{"data":{"name":"cv"},"transform":[{"filter":"datum.p=='C' && (datum.s=='r1' || datum.s=='r2')"}],"mark":{"type":"line","interpolate":"monotone","strokeWidth":1.3},"encoding":{"color":{"field":"s","type":"nominal","scale":{"domain":["f1","f2","r1","r2"],"range":["#111111","#111111","#a6a6a6","#6e6e6e"]},"legend":null}}},
{"data":{"name":"cv"},"transform":[{"filter":"datum.p=='C' && (datum.s=='f1' || datum.s=='f2')"}],"mark":{"type":"line","interpolate":"monotone","strokeWidth":1.3},"encoding":{"color":{"field":"s","type":"nominal","scale":{"domain":["f1","f2","r1","r2"],"range":["#111111","#111111","#a6a6a6","#6e6e6e"]},"legend":null}}},
{"data":{"name":"arrows"},"transform":[{"filter":"datum.p=='C'"}],"mark":{"type":"line","strokeWidth":1.5,"color":"#000"},"encoding":{}},
{"data":{"name":"arrows"},"transform":[{"filter":"datum.p=='C' && datum.k=='tip'"}],"mark":{"type":"point","shape":"triangle-right","filled":true,"size":35,"angle":350,"color":"#000","opacity":1},"encoding":{}},
{"data":{"name":"labels"},"transform":[{"filter":"datum.p=='C'"}],"mark":{"type":"text","fontSize":14,"color":"#000"},"encoding":{"text":{"field":"t"}}},
{"data":{"name":"letters"},"transform":[{"filter":"datum.p=='C'"}],"mark":{"type":"text","fontSize":21,"color":"#000"},"encoding":{"text":{"field":"t"}}}
]}
],"spacing":15,"bounds":"flush"},
{"vconcat":[
{"width":281,"height":128,
"encoding":{"x":{"field":"E","type":"quantitative","scale":{"domain":[-0.292,0.63],"nice":false,"zero":false},"axis":{"values":[-0.2,0,0.2,0.4,0.6],"labels":false,"ticks":false,"domain":false,"title":null,"grid":true}},
"y":{"field":"I","type":"quantitative","scale":{"domain":[-61.7,42.4],"nice":false,"zero":false},"axis":{"values":[-60,-40,-20,0,20,40],"title":"I / µA","labelExpr":"datum.value < 0 ? '-' + (-datum.value) : '' + datum.value"}}},
"layer":[
{"data":{"name":"cv"},"transform":[{"filter":"datum.p=='D' && (datum.s=='r1' || datum.s=='r2')"}],"mark":{"type":"line","interpolate":"monotone","strokeWidth":1.3},"encoding":{"color":{"field":"s","type":"nominal","scale":{"domain":["f1","f2","r1","r2"],"range":["#111111","#111111","#a6a6a6","#6e6e6e"]},"legend":null}}},
{"data":{"name":"cv"},"transform":[{"filter":"datum.p=='D' && (datum.s=='f1' || datum.s=='f2')"}],"mark":{"type":"line","interpolate":"monotone","strokeWidth":1.3},"encoding":{"color":{"field":"s","type":"nominal","scale":{"domain":["f1","f2","r1","r2"],"range":["#111111","#111111","#a6a6a6","#6e6e6e"]},"legend":null}}},
{"data":{"name":"arrows"},"transform":[{"filter":"datum.p=='D'"}],"mark":{"type":"line","strokeWidth":1.5,"color":"#000"},"encoding":{}},
{"data":{"name":"arrows"},"transform":[{"filter":"datum.p=='D' && datum.k=='tip'"}],"mark":{"type":"point","shape":"triangle-right","filled":true,"size":35,"angle":350,"color":"#000","opacity":1},"encoding":{}},
{"data":{"name":"labels"},"transform":[{"filter":"datum.p=='D'"}],"mark":{"type":"text","fontSize":14,"color":"#000"},"encoding":{"text":{"field":"t"}}},
{"data":{"name":"letters"},"transform":[{"filter":"datum.p=='D'"}],"mark":{"type":"text","fontSize":21,"color":"#000"},"encoding":{"text":{"field":"t"}}}
]},
{"width":281,"height":104,
"encoding":{"x":{"field":"E","type":"quantitative","scale":{"domain":[-0.292,0.63],"nice":false,"zero":false},"axis":{"values":[-0.2,0,0.2,0.4,0.6],"labels":false,"ticks":false,"domain":false,"title":null,"grid":true}},
"y":{"field":"I","type":"quantitative","scale":{"domain":[-54.7,23.2],"nice":false,"zero":false},"axis":{"values":[-40,-20,0,20],"title":"I / µA","labelExpr":"datum.value < 0 ? '-' + (-datum.value) : '' + datum.value"}}},
"layer":[
{"data":{"name":"cv"},"transform":[{"filter":"datum.p=='E' && (datum.s=='r1' || datum.s=='r2')"}],"mark":{"type":"line","interpolate":"monotone","strokeWidth":1.3},"encoding":{"color":{"field":"s","type":"nominal","scale":{"domain":["f1","f2","r1","r2"],"range":["#111111","#111111","#a6a6a6","#6e6e6e"]},"legend":null}}},
{"data":{"name":"cv"},"transform":[{"filter":"datum.p=='E' && (datum.s=='f1' || datum.s=='f2')"}],"mark":{"type":"line","interpolate":"monotone","strokeWidth":1.3},"encoding":{"color":{"field":"s","type":"nominal","scale":{"domain":["f1","f2","r1","r2"],"range":["#111111","#111111","#a6a6a6","#6e6e6e"]},"legend":null}}},
{"data":{"name":"arrows"},"transform":[{"filter":"datum.p=='E'"}],"mark":{"type":"line","strokeWidth":1.5,"color":"#000"},"encoding":{}},
{"data":{"name":"arrows"},"transform":[{"filter":"datum.p=='E' && datum.k=='tip'"}],"mark":{"type":"point","shape":"triangle-right","filled":true,"size":35,"angle":350,"color":"#000","opacity":1},"encoding":{}},
{"data":{"name":"labels"},"transform":[{"filter":"datum.p=='E'"}],"mark":{"type":"text","fontSize":14,"color":"#000"},"encoding":{"text":{"field":"t"}}},
{"data":{"name":"letters"},"transform":[{"filter":"datum.p=='E'"}],"mark":{"type":"text","fontSize":21,"color":"#000"},"encoding":{"text":{"field":"t"}}}
]},
{"width":281,"height":110,
"encoding":{"x":{"field":"E","type":"quantitative","scale":{"domain":[-0.292,0.63],"nice":false,"zero":false},"axis":{"values":[-0.2,0,0.2,0.4,0.6],"title":"E vs. Ag/AgCl / V","labelExpr":"datum.value < 0 ? '-' + format(-datum.value, '.1f') : format(datum.value, '.1f')","labelFontSize":17,"titleFontSize":23,"tickSize":3,"tickWidth":1.5,"domainWidth":2.5,"labelPadding":-1,"titleY":36,"titleBaseline":"alphabetic","labelFlush":false,"grid":true}},
"y":{"field":"I","type":"quantitative","scale":{"domain":[-60.1,21.7],"nice":false,"zero":false},"axis":{"values":[-40,-20,0,20],"title":"I / µA","labelExpr":"datum.value < 0 ? '-' + (-datum.value) : '' + datum.value"}}},
"layer":[
{"data":{"name":"cv"},"transform":[{"filter":"datum.p=='F' && (datum.s=='r1' || datum.s=='r2')"}],"mark":{"type":"line","interpolate":"monotone","strokeWidth":1.3},"encoding":{"color":{"field":"s","type":"nominal","scale":{"domain":["f1","f2","r1","r2"],"range":["#111111","#111111","#a6a6a6","#6e6e6e"]},"legend":null}}},
{"data":{"name":"cv"},"transform":[{"filter":"datum.p=='F' && (datum.s=='f1' || datum.s=='f2')"}],"mark":{"type":"line","interpolate":"monotone","strokeWidth":1.3},"encoding":{"color":{"field":"s","type":"nominal","scale":{"domain":["f1","f2","r1","r2"],"range":["#111111","#111111","#a6a6a6","#6e6e6e"]},"legend":null}}},
{"data":{"name":"arrows"},"transform":[{"filter":"datum.p=='F'"}],"mark":{"type":"line","strokeWidth":1.5,"color":"#000"},"encoding":{}},
{"data":{"name":"arrows"},"transform":[{"filter":"datum.p=='F' && datum.k=='tip'"}],"mark":{"type":"point","shape":"triangle-right","filled":true,"size":35,"angle":350,"color":"#000","opacity":1},"encoding":{}},
{"data":{"name":"labels"},"transform":[{"filter":"datum.p=='F'"}],"mark":{"type":"text","fontSize":14,"color":"#000"},"encoding":{"text":{"field":"t"}}},
{"data":{"name":"letters"},"transform":[{"filter":"datum.p=='F'"}],"mark":{"type":"text","fontSize":21,"color":"#000"},"encoding":{"text":{"field":"t"}}}
]}
],"spacing":22,"bounds":"flush"}
]
}
